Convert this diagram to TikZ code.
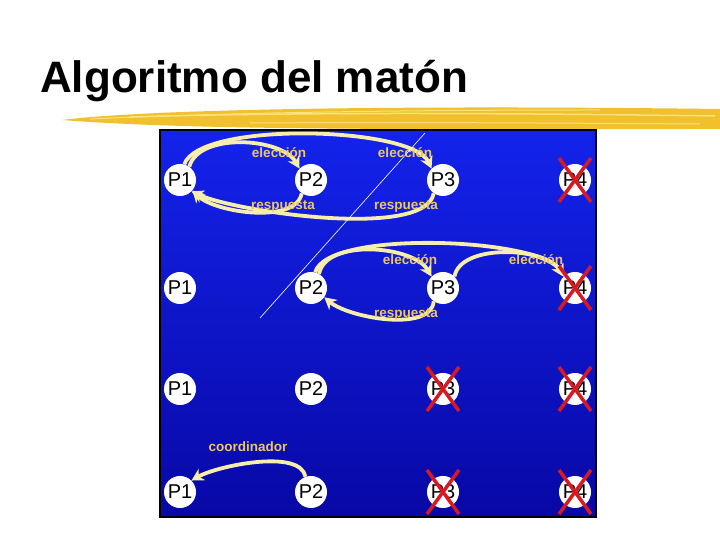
\documentclass[tikz,border=0pt]{standalone}
\usepackage{fontspec}
\setmainfont{Liberation Sans}
\usetikzlibrary{arrows.meta}
\definecolor{amarillo}{RGB}{246,238,170}
\definecolor{dorado}{RGB}{240,192,45}
\definecolor{claro}{RGB}{250,226,125}
\definecolor{etiq}{RGB}{240,198,96}
\definecolor{rojo}{RGB}{215,25,35}
\definecolor{azul}{RGB}{20,35,235}
\definecolor{azuloscuro}{RGB}{8,8,165}
\tikzstyle{proc} = [circle, fill=white, inner sep=0pt, minimum size=32pt,
    font=\fontsize{20}{20}\selectfont]
\tikzstyle{msg} = [text=etiq, inner sep=0pt, font=\bfseries\fontsize{13.5}{14}\selectfont]
\tikzstyle{flecha} = [->, draw=amarillo, line width=3.8pt]
\tikzstyle{cruz} = [draw=rojo, line width=3.5pt]
\newcommand{\tachar}[1]{\draw[cruz] ([shift={(-16,-22)}]#1.center) -- ([shift={(16,22)}]#1.center)
    ([shift={(-16,22)}]#1.center) -- ([shift={(16,-22)}]#1.center);}

\begin{document}
\begin{tikzpicture}[>={Stealth[length=12pt,width=13pt]},x=1pt,y=1pt]
  \useasboundingbox (0,0) rectangle (720,540);

  \node[anchor=base west, inner sep=0pt, font=\bfseries\fontsize{44}{44}\selectfont]
    (titulo) at (40,447) {Algoritmo del matón};

  % pincelada
  \fill[dorado] (62,420) .. controls (150,431) and (400,435) .. (720,431)
    -- (720,411) .. controls (450,411) and (200,409) .. (62,420) -- cycle;
  \draw[claro, line width=1.5pt] (130,423) .. controls (300,428) and (500,427) .. (715,424);
  \draw[claro, line width=1pt] (250,417) .. controls (400,418) and (550,417) .. (700,416);
  \draw[claro, line width=1pt] (90,421) .. controls (200,426) and (350,430) .. (600,430);

  % fondo
  \draw[line width=2pt, top color=azul, bottom color=azuloscuro] (160,23) rectangle (596,410);

  \node[proc] (p11) at (180,360) {P1};
  \node[proc] (p12) at (311,360) {P2};
  \node[proc] (p13) at (443,360) {P3};
  \node[proc] (p14) at (575,360) {P4};
  \node[proc] (p21) at (180,252) {P1};
  \node[proc] (p22) at (311,252) {P2};
  \node[proc] (p23) at (443,252) {P3};
  \node[proc] (p24) at (575,252) {P4};
  \node[proc] (p31) at (180,151) {P1};
  \node[proc] (p32) at (311,151) {P2};
  \node[proc] (p33) at (443,151) {P3};
  \node[proc] (p34) at (575,151) {P4};
  \node[proc] (p41) at (180,48) {P1};
  \node[proc] (p42) at (311,48) {P2};
  \node[proc] (p43) at (443,48) {P3};
  \node[proc] (p44) at (575,48) {P4};

  % P1 convoca
  \draw[flecha] (p11.55) to[out=75,in=120,looseness=0.83] (p12.135);
  \draw[flecha] (p11.75) to[out=70,in=115,looseness=0.48] (p13.135);
  \draw[flecha] (p12.235) to[out=-100,in=-45,looseness=0.74] (p11.-40);
  \draw[flecha] (p13.235) to[out=-100,in=-25,looseness=0.5] (p11.-45);

  % P2 y P3 convocan
  \draw[flecha] (p22.60) to[out=80,in=120,looseness=0.82] (p23.135);
  \draw[flecha] (p22.75) to[out=75,in=120,looseness=0.46] (p24.135);
  \draw[flecha] (p23.45) to[out=80,in=120,looseness=0.8] (p24.135);
  \draw[flecha] (p23.235) to[out=-95,in=-40,looseness=0.74] (p22.-35);

  % P2 gana
  \draw[flecha] (p42.110) to[out=100,in=30,looseness=0.65] (p41.45);

  \node[msg] (e1) at (279,387) {elección};
  \node[msg] (e2) at (405,387) {elección};
  \node[msg] (r1) at (283,333) {respuesta};
  \node[msg] (r2) at (406,333) {respuesta};
  \node[msg] (e3) at (410,280) {elección};
  \node[msg] (e4) at (536,280) {elección};
  \node[msg] (r3) at (406,225) {respuesta};
  \node[msg] (co) at (248,93) {coordinador};

  \tachar{p14}
  \tachar{p24}
  \tachar{p33}
  \tachar{p34}
  \tachar{p43}
  \tachar{p44}

  \coordinate (d1) at (260,222);
  \coordinate (d2) at (425,407);
  \draw[white, line width=0.6pt] (d1) -- (d2);
\end{tikzpicture}
\end{document}
